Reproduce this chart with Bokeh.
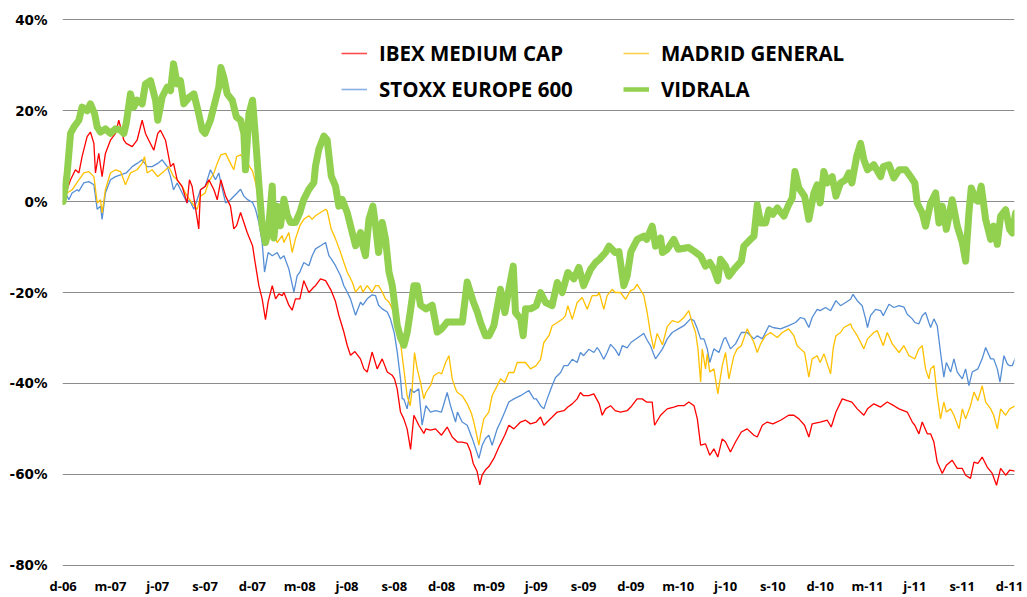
from bokeh.plotting import figure
from bokeh.models import (ColumnDataSource, Range1d, FixedTicker, NumeralTickFormatter,
                          Legend, LegendItem)
from bokeh.embed import file_html
from bokeh.resources import INLINE

# ---- tick labels (every 3 months, month 0 = Dec 2006) ----
x_ticks = list(range(0, 61, 3))
x_labels = ["d-06", "m-07", "j-07", "s-07", "d-07", "m-08", "j-08", "s-08", "d-08",
            "m-09", "j-09", "s-09", "d-09", "m-10", "j-10", "s-10", "d-10", "m-11",
            "j-11", "s-11", "d-11"]
y_ticks = [-0.8, -0.6, -0.4, -0.2, 0.0, 0.2, 0.4]

# ---- series (month since Dec-06, performance in %) ----
vidrala_m = [0, 0.25, 0.47, 0.68, 1.0, 1.2, 1.52, 1.73, 2.0, 2.16, 2.37, 2.68, 3.0, 3.32, 3.64, 3.85,
             4.0, 4.27, 4.48, 4.69, 5.01, 5.22, 5.54, 5.86, 6.0, 6.28, 6.6, 6.81, 7.0, 7.23, 7.44,
             7.65, 8.01, 8.29, 8.6, 8.82, 9.0, 9.34, 9.66, 9.87, 10.0, 10.19, 10.4, 10.72, 10.99,
             11.25, 11.46, 11.56, 11.78, 12.01, 12.2, 12.41, 12.62, 12.83, 13.0, 13.26, 13.36,
             13.57, 13.78, 14.0, 14.21, 14.42, 14.73, 15.01, 15.26, 15.58, 15.9, 16.0, 16.21,
             16.53, 16.74, 17.0, 17.27, 17.48, 17.69, 18.01, 18.22, 18.54, 18.86, 19.0, 19.17,
             19.39, 19.64, 19.81, 20.0, 20.23, 20.44, 20.66, 20.87, 21.0, 21.18, 21.4, 21.61,
             21.82, 22.01, 22.24, 22.45, 22.66, 23.0, 23.4, 23.72, 24.0, 24.35, 24.77, 24.99,
             25.31, 25.62, 26.0, 26.26, 26.46, 26.78, 27.0, 27.31, 27.73, 28.01, 28.26, 28.54,
             28.68, 29.0, 29.17, 29.32, 29.64, 30.0, 30.27, 30.59, 31.0, 31.33, 31.64, 32.0,
             32.38, 32.7, 33.0, 33.44, 33.76, 34.0, 34.39, 34.61, 35.0, 35.24, 35.55, 35.76,
             36.0, 36.4, 36.82, 37.0, 37.35, 37.56, 37.88, 38.0, 38.3, 38.72, 39.0, 39.65, 40.0,
             40.42, 40.73, 41.0, 41.26, 41.51, 41.68, 42.0, 42.21, 42.53, 43.0, 43.16, 43.59,
             43.8, 44.01, 44.22, 44.54, 44.75, 45.0, 45.28, 45.7, 46.0, 46.23, 46.4, 46.65,
             47.01, 47.28, 47.6, 47.81, 48.0, 48.23, 48.45, 48.76, 49.0, 49.29, 49.61, 49.82,
             50.01, 50.31, 50.56, 50.77, 51.0, 51.4, 51.83, 52.0, 52.36, 52.67, 53.0, 53.42,
             53.73, 54.0, 54.15, 54.47, 54.68, 55.0, 55.32, 55.53, 55.74, 56.0, 56.37, 56.69,
             57.01, 57.22, 57.43, 57.58, 57.85, 58.0, 58.21, 58.49, 58.81, 59.0, 59.23, 59.44,
             59.76, 60.01, 60.18, 60.39]
vidrala_v = [0, 6, 15, 16.4, 17.9, 20.8, 20, 21.5, 19.3, 16.4, 15.3, 16, 15, 16, 15.7, 15,
             17.2, 23.7, 20.8, 22.3, 21.5, 25.9, 26.6, 22.3, 17.9, 23, 25.2, 24.4, 30.3, 25.9, 26.6,
             21.5, 23, 23.7, 19.3, 15.7, 15, 17.9, 22.3, 25.2, 29.5, 27.3, 23.7, 22.3, 18.6,
             17.9, 15, 7, 19.3, 22.3, 14, 4, -5.3, -9, -6.8, 3.4, -8,
             -1, -5.3, 0.5, -3, -4.6, -4.6, -2.4, 0.5, 2.7, 4.2, 7.8, 11.5,
             14.4, 13.6, 5.6, 3.4, -1, 0.5, -2.4, -5.3, -9.7, -6.8, -9.7, -11.9,
             -3.9, -1, -5.3, -11.2, -4.6, -8.2, -15.5, -18.5, -22, -27.2, -30, -31.6,
             -28.7, -24.3, -18.5, -18.5, -22.8, -23.6, -22.8, -28.7, -28, -26.5, -26.5, -26.5,
             -26.5, -17.7, -22, -24.3, -26.6, -29.5, -29.5, -27.3, -19.3, -24.4, -19.3, -14.2,
             -24.4, -25.8, -29.5, -23.6, -23.6, -22.9, -20, -22.2, -22.9, -17.8, -20, -15.6,
             -17, -14.5, -18.5, -14.9, -13.4, -12.7, -11.2, -9.8, -11.2, -11, -18.5, -16.4,
             -11, -8.3, -7.6, -8.3, -5.4, -9.8, -8, -11.2, -10.5, -8.3, -10.5, -10.1, -10.9,
             -12, -14.2, -13.4, -14.9, -17.4, -12.7, -14.2, -16.4, -14.9, -13.1, -9.8, -8.3,
             -7.6, -0.7, -4.7, -4.7, -1.8, -2.8, -1.4, -3.2, -0.7, 0.8, 6.6, 3,
             1.2, -3.9, 1.9, 3.7, -0.3, 6.6, 4.1, 5.5, 1.2, 4.1, 4.8, 6.3,
             4.1, 9.9, 12.8, 9.2, 7, 8.1, 5.5, 7.7, 8.1, 5.2, 7, 7,
             5.5, 4.1, -0.3, -2.5, -5.4, -0.3, 1.9, -4.7, -1, -6.1, 0.4, -5.4,
             -9, -13.1, -2.5, 3, 0.4, 0.1, 3.4, -3.9, -8.3, -5.4, -9.4, -3.2,
             -1.8, -6.1, -6.9, -2.5]

ibex_m = [0, 0.25, 0.47, 0.78, 1.0, 1.2, 1.52, 1.73, 1.95, 2.05, 2.26, 2.47, 2.68, 3.0, 3.32,
          3.53, 3.85, 4.0, 4.38, 4.69, 5.01, 5.22, 5.43, 5.75, 6.0, 6.17, 6.49, 6.81, 7.0, 7.23,
          7.55, 7.86, 8.01, 8.18, 8.6, 8.71, 9.0, 9.24, 9.56, 9.77, 10.0, 10.3, 10.61, 10.82,
          11.0, 11.25, 11.46, 11.67, 12.01, 12.2, 12.41, 12.62, 12.83, 13.0, 13.26, 13.47,
          13.68, 13.89, 14.0, 14.31, 14.52, 14.73, 15.01, 15.26, 15.58, 15.9, 16.0, 16.32,
          16.64, 17.0, 17.27, 17.48, 17.8, 18.01, 18.22, 18.5, 18.85, 19.07, 19.28, 19.59,
          19.91, 20.23, 20.55, 20.86, 21.01, 21.18, 21.39, 21.6, 21.81, 22.03, 22.24, 22.55,
          22.87, 23.0, 23.29, 23.61, 23.99, 24.35, 24.67, 25.0, 25.3, 25.62, 25.83, 26.0,
          26.25, 26.42, 26.57, 26.78, 26.99, 27.31, 27.63, 28.0, 28.26, 28.58, 29.0, 29.32,
          29.63, 29.99, 30.27, 30.48, 31.01, 31.33, 31.75, 32.0, 32.28, 32.59, 32.8, 32.99,
          33.33, 33.65, 33.99, 34.18, 34.39, 34.71, 35.0, 35.34, 35.76, 35.99, 36.39, 36.71,
          36.99, 37.35, 37.5, 37.88, 38.3, 38.72, 39.0, 39.36, 39.67, 40.0, 40.21, 40.42,
          40.73, 41.0, 41.26, 41.51, 41.79, 42.0, 42.31, 42.63, 43.0, 43.37, 43.8, 44.01,
          44.33, 44.64, 45.0, 45.49, 46.0, 46.33, 46.65, 47.01, 47.28, 47.49, 48.0, 48.45,
          48.7, 49.0, 49.4, 49.72, 50.01, 50.35, 50.77, 51.0, 51.4, 51.83, 52.25, 52.67,
          53.0, 53.52, 53.84, 54.0, 54.26, 54.47, 54.79, 55.0, 55.21, 55.42, 55.74, 56.0,
          56.37, 56.69, 57.01, 57.22, 57.53, 57.75, 58.0, 58.27, 58.59, 58.91, 59.18, 59.44,
          59.76, 60.01, 60.39]
ibex_v = [0, 2.6, 4.8, 7, 6.3, 9.9, 14.3, 15.3, 12.8, 6.3, 10.6, 5.5, 10.6, 13.5, 15,
          17.9, 13.5, 12.8, 12.1, 13.5, 17.9, 15, 13.5, 11.3, 15, 15.7, 13.5, 7.7, 8.4, 4.8,
          3.3, -0.3, 4.8, 3.3, -6, 2.6, 3.3, 4.8, 2.6, 0.4, 4.8, 1.2, -1, -6,
          -5.3, -2.4, -4.6, -6.8, -9.7, -14, -18.5, -21.4, -26, -22, -18.5, -21.4,
          -20.3, -20.7, -20, -22.8, -23.9, -21.4, -21.4, -17.4, -20, -18.8, -18.5, -17,
          -17.4, -19.6, -22, -25, -28.7, -31.6, -33.8, -33, -34.6, -36.8, -37.5, -33.1,
          -36.8, -34.6, -37.5, -38.2, -39, -41.2, -46.3, -47.8, -50, -54.5, -47, -49.2,
          -51, -50, -50.3, -50, -51.4, -49.6, -51.8, -52.9, -52.9, -53.2, -55, -57.6,
          -59.4, -62.3, -60.1, -59, -58.3, -56.5, -54, -51.4, -49.2, -50, -48.5, -48.1,
          -48.9, -48.5, -47.4, -49.2, -47.4, -46.3, -46, -45.2, -44.5, -43.4, -42, -42.7,
          -42.7, -42.3, -44.5, -47, -45.6, -44.9, -46, -46.3, -46, -45.2, -43.4, -43.4,
          -44.1, -44.1, -49.2, -47, -45.6, -45.2, -44.9, -44.9, -44.1, -44.9, -47.8, -53.6,
          -53.3, -55.8, -54.4, -56.2, -52.2, -52.9, -55.1, -52.9, -50.7, -50, -51.4, -51.8,
          -49.2, -48.5, -48.9, -48.1, -47, -47, -47.8, -49.2, -51.8, -48.9, -48.5, -48.1,
          -49.6, -46.3, -43.4, -43.8, -44.1, -45.6, -47, -45.6, -44.5, -45.2, -44.1, -44.9,
          -45.6, -46.3, -48.5, -49.2, -51.1, -48.5, -51.1, -51.1, -52.9, -57.3, -59.8, -58,
          -56.9, -58.7, -58.7, -60.2, -60.9, -57.3, -57.6, -56.2, -58.4, -59.8, -62.4, -58.7,
          -60.2, -59.1, -59.3]

madrid_m = [0, 0.25, 0.57, 0.78, 1.0, 1.31, 1.63, 1.95, 2.16, 2.37, 2.47, 2.68, 3.0, 3.32, 3.64,
            3.95, 4.27, 4.69, 5.01, 5.16, 5.33, 5.64, 6.0, 6.38, 6.7, 7.0, 7.23, 7.55, 7.86,
            8.18, 8.5, 8.71, 9.0, 9.24, 9.56, 9.77, 10.0, 10.3, 10.61, 10.82, 11.0, 11.25,
            11.67, 12.01, 12.2, 12.41, 12.62, 12.83, 13.0, 13.26, 13.57, 13.89, 14.0, 14.31,
            14.52, 14.73, 15.01, 15.26, 15.58, 15.79, 16.0, 16.32, 16.64, 16.74, 17.0, 17.27,
            17.59, 17.8, 18.01, 18.33, 18.54, 18.86, 19.0, 19.28, 19.59, 19.81, 20.0, 20.23,
            20.44, 20.66, 20.87, 21.0, 21.18, 21.39, 21.6, 21.81, 22.01, 22.13, 22.28, 22.45,
            22.66, 22.87, 23.0, 23.29, 23.5, 23.82, 24.0, 24.25, 24.46, 24.67, 24.88, 25.0,
            25.3, 25.62, 25.88, 26.04, 26.36, 26.46, 26.67, 26.99, 27.2, 27.52, 27.73, 28.0,
            28.26, 28.58, 28.79, 29.0, 29.32, 29.63, 29.99, 30.27, 30.48, 30.8, 31.01, 31.33,
            31.64, 31.85, 32.0, 32.28, 32.59, 32.91, 33.23, 33.54, 33.86, 33.99, 34.28, 34.49,
            34.81, 35.0, 35.34, 35.66, 35.97, 36.18, 36.39, 36.71, 36.82, 37.03, 37.24, 37.45,
            37.66, 38.0, 38.3, 38.62, 39.0, 39.36, 39.67, 39.88, 40.1, 40.25, 40.42, 40.52,
            40.73, 40.84, 41.0, 41.26, 41.51, 41.79, 42.0, 42.21, 42.53, 42.74, 43.0, 43.37,
            43.8, 44.01, 44.22, 44.54, 44.85, 45.0, 45.28, 45.6, 46.0, 46.33, 46.54, 46.75,
            47.01, 47.28, 47.49, 47.81, 48.0, 48.24, 48.66, 48.83, 49.0, 49.29, 49.5, 49.93,
            50.01, 50.35, 50.77, 51.0, 51.4, 51.62, 52.0, 52.25, 52.57, 53.0, 53.31, 53.63,
            53.84, 54.0, 54.26, 54.47, 54.68, 54.89, 55.0, 55.21, 55.42, 55.63, 55.84, 56.0,
            56.27, 56.48, 56.8, 57.01, 57.22, 57.53, 57.75, 58.0, 58.27, 58.49, 58.81, 59.0,
            59.23, 59.44, 59.76, 60.01, 60.39]
madrid_v = [0, 1.9, 2.6, 3.7, 4.8, 6.3, 6.6, 5.5, -0.3, 0.4, -2.5, 2.6, 6.3, 7, 6.6,
            3.7, 6.3, 7, 8.4, 9.9, 6.3, 7, 5.5, 6.6, 7.7, 5.5, 4.8, 3.3, 1.2,
            -0.3, -1.7, 1.2, 1.9, 4.4, 6.3, 8.4, 10.3, 10.6, 8.4, 7, 9.9, 10.3,
            8.5, 6.7, 4.2, 0.5, -3.9, -9, -7.5, -6.1, -9, -7.5, -9, -6.8,
            -11.2, -8.2, -5.3, -3.9, -3.1, -3.9, -3.1, -2.4, -1.7, -2, -6.1, -8.2,
            -11.2, -13.4, -15.5, -17.7, -19.9, -18.5, -19.9, -18.5, -19.9, -18.5, -18.5, -19.9,
            -21.4, -22.1, -23.6, -25, -26.5, -31, -36.8, -42.7, -44.9, -41.2, -33.2, -36.8,
            -39.8, -43.4, -42, -40.5, -38.3, -37.6, -37.9, -35.4, -33.9, -39, -41.2, -42,
            -42.7, -44.5, -46.5, -48.5, -53.6, -51.4, -47.8, -46.3, -42.7, -40.5, -39, -39.8,
            -37.6, -37.6, -35.4, -35.4, -35.4, -36.8, -36.1, -34.7, -31, -29.5, -27.3, -26.6,
            -25.9, -25.1, -22.9, -25.9, -22.2, -21.1, -23.7, -20.7, -20.7, -20, -23.7, -20.7,
            -19.3, -20, -20, -21.5, -19.6, -19.3, -18.2, -20, -20.7, -24.4, -29, -32.4,
            -29, -31.5, -27.5, -26.2, -26.6, -25.5, -24, -26.6, -28.8, -32.4, -39.7, -32.4,
            -36.8, -33.5, -37.5, -36.8, -42.3, -36.1, -33.2, -39, -33.9, -32.4, -31.7, -28,
            -31, -33.2, -31.3, -29.5, -28.8, -29.2, -29.9, -28.8, -28, -29.5, -31.7, -32.4,
            -33.2, -38.6, -34.6, -33.9, -35.4, -33.5, -37.9, -32.1, -29.5, -28.8, -27.7, -26.9,
            -27.7, -29.5, -32.4, -30.2, -28.8, -28.4, -31.7, -28.8, -31.3, -33.2, -31.7, -33.9,
            -34.3, -34.6, -32.4, -31.7, -36.8, -39, -36.8, -36.1, -42.7, -47.8, -44.1, -46.3,
            -45.6, -47, -50, -45.6, -47.8, -44.9, -41.9, -43.8, -40.5, -44.1, -45.6, -47,
            -50, -45.6, -47, -45.6, -44.9]

stoxx_m = [0, 0.25, 0.36, 0.57, 0.89, 1.0, 1.31, 1.63, 1.95, 2.16, 2.37, 2.47, 2.68, 3.0, 3.32,
           3.64, 4.0, 4.38, 4.69, 5.01, 5.33, 5.64, 6.0, 6.28, 6.6, 6.81, 7.0, 7.23, 7.55, 7.86,
           8.01, 8.29, 8.71, 9.0, 9.34, 9.66, 9.87, 10.0, 10.3, 10.61, 11.03, 11.25, 11.46,
           11.67, 12.01, 12.2, 12.41, 12.62, 12.77, 13.0, 13.26, 13.57, 13.78, 14.0, 14.31,
           14.63, 14.84, 15.01, 15.26, 15.58, 15.79, 16.0, 16.32, 16.64, 16.85, 17.0, 17.27,
           17.59, 17.8, 18.01, 18.22, 18.54, 18.86, 19.0, 19.28, 19.59, 19.81, 20.0, 20.23,
           20.55, 20.75, 21.0, 21.18, 21.39, 21.5, 21.6, 21.81, 22.03, 22.24, 22.55, 22.76,
           23.0, 23.29, 23.61, 23.99, 24.35, 24.56, 24.88, 25.0, 25.3, 25.62, 25.94, 26.15,
           26.36, 26.57, 26.78, 26.99, 27.2, 27.52, 27.73, 28.0, 28.26, 28.58, 29.0, 29.32,
           29.53, 29.85, 30.0, 30.27, 30.48, 30.69, 31.0, 31.22, 31.54, 31.75, 32.0, 32.28,
           32.59, 32.8, 33.0, 33.33, 33.65, 33.86, 34.0, 34.28, 34.49, 34.71, 35.0, 35.24,
           35.45, 35.76, 36.0, 36.29, 36.61, 36.82, 37.03, 37.24, 37.56, 38.0, 38.3, 38.62,
           39.0, 39.36, 39.78, 40.0, 40.21, 40.42, 40.63, 40.84, 41.0, 41.26, 41.58, 41.89,
           42.0, 42.31, 42.63, 43.0, 43.37, 43.8, 44.01, 44.33, 44.75, 45.0, 45.49, 46.0,
           46.44, 46.75, 47.01, 47.28, 47.49, 47.81, 48.0, 48.34, 48.66, 49.0, 49.29, 49.61,
           49.93, 50.08, 50.35, 50.66, 50.88, 51.0, 51.19, 51.51, 51.83, 52.0, 52.36, 52.67,
           53.0, 53.31, 53.52, 53.84, 54.0, 54.26, 54.47, 54.68, 54.89, 55.0, 55.21, 55.42,
           55.63, 55.84, 56.0, 56.27, 56.48, 56.69, 57.01, 57.22, 57.43, 57.64, 58.0, 58.27,
           58.49, 58.81, 59.0, 59.23, 59.4, 59.65, 59.86, 60.01, 60.18, 60.39]
stoxx_v = [0, 1.2, 0.4, 1.9, 2.6, 2.3, 4.1, 4.4, 3.7, -1.7, -1, -3.9, 1.9, 4.8, 5.5,
           5.9, 6.3, 7.7, 8.4, 9.2, 7.7, 7.7, 8.4, 9.2, 7.7, 5.5, 2.6, 4.1, 1.9, -0.3,
           0.4, -1.7, 2.6, 3.3, 7, 4.8, 6.3, 4.1, -0.3, 0.4, 1.9, 2.7, 1.2,
           0.5, -0.2, -1.7, -4.6, -9, -15.5, -11.2, -11.9, -11.2, -12.6, -11.9, -14.8,
           -19.9, -16.3, -15.5, -13.4, -14.1, -11.9, -10.4, -9.7, -9, -11.9, -12.6, -14.1,
           -16.3, -18.5, -19.9, -21.4, -25, -22.1, -22.8, -21.4, -20.5, -20.7, -22.8, -23.6,
           -24.3, -25.8, -29, -33, -39, -43.4, -43.4, -45.6, -41.2, -42, -41.2, -49.2,
           -44.9, -46.3, -46, -46.3, -42, -44.9, -48.5, -46.3, -48.5, -49.2, -52.1, -54.3,
           -56.5, -53.6, -52.1, -51.4, -53.6, -50, -48.5, -46.3, -44.1, -43.4, -42.7, -42,
           -41.6, -43.4, -43.4, -44.9, -45.6, -43.4, -40.5, -38.7, -37.6, -36.1, -36.1, -34.7,
           -35.4, -33.2, -33.9, -32.5, -33.2, -32.1, -32.8, -34.7, -33.2, -31.4, -32.5, -33.9,
           -31.7, -32.2, -31, -30.3, -29.5, -29, -30.5, -31.7, -34.6, -32.4, -30.2, -28.8,
           -28, -27.3, -25.8, -26.2, -28, -30.2, -30.2, -32.4, -35.4, -32.4, -33.2, -30.2,
           -29.9, -32.4, -31.3, -28.8, -28.8, -30.2, -29.5, -30.2, -27.3, -27.7, -28, -27.3,
           -26.6, -25.5, -25.8, -27.7, -25.5, -23.7, -24, -23.3, -24, -21.8, -22.9, -22.2,
           -21.5, -20.4, -21.8, -22.9, -25.8, -27.7, -25.1, -23.7, -24, -25.1, -22.6, -23.3,
           -22.9, -23.2, -24.8, -25.8, -26.6, -26.9, -25.1, -24.4, -26.6, -27.7, -25.8, -27.3,
           -33.2, -38.6, -35.4, -37.5, -34.6, -37.5, -39, -36.8, -40.5, -37.5, -36.8, -34.6,
           -32.1, -34.6, -34.6, -36.8, -39.7, -33.9, -35.7, -36.1, -36.1, -34.3]

series_names = ["IBEX MEDIUM CAP", "MADRID GENERAL", "STOXX EUROPE 600", "VIDRALA"]
series_colors = ["#FF0000", "#FFC000", "#558ED5", "#92D050"]

p = figure(width=1027, height=597, output_backend="svg", toolbar_location=None,
           x_range=Range1d(-0.04, 60.32), y_range=Range1d(-0.805, 0.405),
           min_border_left=62, min_border_right=13, min_border_top=17, min_border_bottom=28)
p.outline_line_color = None
p.background_fill_color = "white"
p.border_fill_color = "white"

src_stoxx = ColumnDataSource(dict(x=stoxx_m, y=[v / 100 for v in stoxx_v]))
src_madrid = ColumnDataSource(dict(x=madrid_m, y=[v / 100 for v in madrid_v]))
src_ibex = ColumnDataSource(dict(x=ibex_m, y=[v / 100 for v in ibex_v]))
src_vid = ColumnDataSource(dict(x=vidrala_m, y=[v / 100 for v in vidrala_v]))

p.line("x", "y", source=src_stoxx, color=series_colors[2], line_width=1.3)
p.line("x", "y", source=src_madrid, color=series_colors[1], line_width=1.3)
p.line("x", "y", source=src_ibex, color=series_colors[0], line_width=1.3)
p.line("x", "y", source=src_vid, color=series_colors[3], line_width=7,
       line_join="round", line_cap="round")

# legend proxies (legend samples are thinner than the plotted VIDRALA line); no visible data
nan = float("nan")
prox = []
for c, w, a in zip(series_colors, [1.6, 1.6, 1.6, 4.5], [0.7, 0.7, 0.7, 1.0]):
    prox.append(p.line(x=[nan, nan], y=[nan, nan], color=c, line_width=w, line_alpha=a))

def make_legend(items, loc):
    lg = Legend(items=items, location=loc, orientation="vertical")
    lg.label_text_font = "Open Sans"
    lg.label_text_font_size = "20.5px"
    lg.label_text_font_style = "bold"
    lg.label_text_color = "black"
    lg.glyph_width = 26
    lg.glyph_height = 20
    lg.label_height = 20
    lg.label_standoff = 12
    lg.spacing = 8
    lg.padding = 0
    lg.margin = 0
    lg.border_line_color = None
    lg.background_fill_alpha = 0
    return lg

leg1 = make_legend([LegendItem(label=series_names[0], renderers=[prox[0]]),
                    LegendItem(label=series_names[2], renderers=[prox[2]])], (279, 464))
leg2 = make_legend([LegendItem(label=series_names[1], renderers=[prox[1]]),
                    LegendItem(label=series_names[3], renderers=[prox[3]])], (561, 464))
p.add_layout(leg1)
p.add_layout(leg2)

# axes
p.xaxis.ticker = FixedTicker(ticks=x_ticks)
p.xaxis.major_label_overrides = {t: l for t, l in zip(x_ticks, x_labels)}
p.xaxis.axis_line_color = None
p.xaxis.major_tick_line_color = None
p.xaxis.minor_tick_line_color = None
p.xaxis.major_tick_out = 0
p.xaxis.major_label_standoff = 9
p.xaxis.major_label_text_font = "Open Sans"
p.xaxis.major_label_text_font_size = "13px"
p.xaxis.major_label_text_font_style = "bold"
p.xaxis.major_label_text_color = "black"

p.yaxis.ticker = FixedTicker(ticks=y_ticks)
p.yaxis.formatter = NumeralTickFormatter(format="0%")
p.yaxis.axis_line_color = None
p.yaxis.major_tick_line_color = None
p.yaxis.minor_tick_line_color = None
p.yaxis.major_tick_out = 0
p.yaxis.major_label_standoff = 15
p.yaxis.major_label_text_font = "DejaVu Sans"
p.yaxis.major_label_text_font_size = "13.5px"
p.yaxis.major_label_text_font_style = "bold"
p.yaxis.major_label_text_color = "black"

p.xgrid.grid_line_color = None
p.ygrid.ticker = FixedTicker(ticks=y_ticks)
p.ygrid.grid_line_color = "#8C8C8C"
p.ygrid.grid_line_width = 1

open("out.html", "w").write(file_html(p, INLINE))
